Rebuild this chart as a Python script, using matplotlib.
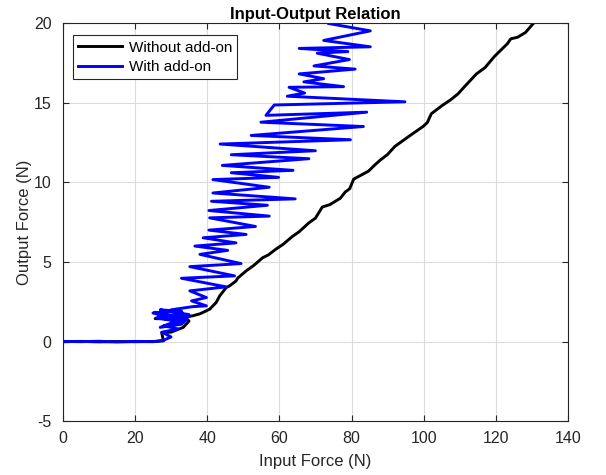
import matplotlib.pyplot as plt

plt.rcParams['font.family'] = ['Liberation Sans', 'DejaVu Sans']
plt.rcParams['axes.unicode_minus'] = False

# Without add-on (black curve)
x_without = [0, 5, 10, 15, 20, 24, 26, 27.9, 27.4, 30, 33.4, 35, 34.5, 25.6, 30, 33,
             36.1, 38, 39.8, 40.7, 42.5, 43.5, 45.3, 46.2, 48, 48.5, 50.8, 53, 55.4,
             57, 59, 61, 63.6, 65.5, 68.2, 70, 71.9, 74, 76.9, 78.3, 79.5, 80.6,
             84.7, 86.5, 88, 90, 92, 96, 99.8, 101, 102.1, 105, 107.6, 109.5, 111.3,
             114.6, 117, 119.6, 123.2, 124.1, 126, 128.2, 130.1, 131]
y_without = [0, 0.02, -0.01, 0.01, 0, 0.01, 0.02, 0.05, 0.58, 0.6, 0.9, 1.3, 1.4, 1.45,
             1.48, 1.5, 1.63, 1.75, 1.94, 2.04, 2.46, 2.88, 3.4, 3.5, 3.81, 4.0, 4.44,
             4.8, 5.27, 5.45, 5.8, 6.1, 6.6, 6.9, 7.46, 7.75, 8.45, 8.6, 9.0, 9.4,
             9.6, 10.2, 10.7, 11.1, 11.4, 11.75, 12.25, 12.9, 13.5, 13.75, 14.3, 14.8,
             15.2, 15.55, 16.0, 16.8, 17.2, 17.9, 18.7, 19.0, 19.1, 19.4, 19.9, 20.1]

# With add-on (blue zigzag)
x_with = [0, 5, 10, 15, 20, 25, 28, 30, 27.5, 32, 28, 33.5, 26, 34, 25, 33, 27, 35,
          26.5, 34.5, 25.5, 33, 27, 35, 30, 36, 39.8, 35.7, 39.8, 35.2, 45.3, 32.9,
          47.6, 35.2, 49.4, 38, 45.7, 36.6, 48, 38.9, 50.8, 40.5, 53.4, 40.7, 57.2,
          40.5, 56.7, 41.2, 64.4, 41.6, 57.2, 41.6, 59.8, 46.7, 63.8, 44.2, 68.2,
          46.7, 70, 43.6, 79.7, 52.2, 83.3, 54.9, 84.2, 56.3, 58.6, 94.8, 62.2, 67,
          62.7, 77.8, 66.8, 72.3, 65.5, 81, 69.6, 79.4, 70.5, 79, 65.5, 85.2, 72.3,
          85.2, 73.7]
y_with = [0.02, 0.0, 0.03, -0.02, 0.02, 0.0, 0.1, 0.3, 0.6, 0.8, 1.0, 1.2, 1.5, 1.3,
          1.8, 1.9, 2.0, 1.7, 1.6, 1.4, 1.85, 1.1, 0.9, 1.6, 2.0, 2.2, 2.25, 2.56,
          2.77, 3.19, 3.44, 3.98, 4.13, 4.71, 4.9, 5.48, 5.73, 6.0, 6.2, 6.52, 6.73,
          7.0, 7.23, 7.77, 7.88, 8.23, 8.56, 8.81, 8.96, 9.33, 9.69, 10.17, 10.31,
          10.6, 10.75, 11.06, 11.48, 11.73, 11.98, 12.4, 12.67, 12.94, 13.5, 13.77,
          14.4, 14.2, 14.85, 15.05, 15.4, 15.6, 15.96, 16.0, 16.3, 16.5, 16.8, 17.1,
          17.3, 17.7, 18.1, 18.2, 18.4, 18.5, 18.9, 19.5, 19.96]

x_ticks = [0, 20, 40, 60, 80, 100, 120, 140]
y_ticks = [-5, 0, 5, 10, 15, 20]

fig = plt.figure(figsize=(6.06, 4.75), dpi=100)
ax = fig.add_axes([0.1035, 0.1128, 0.834, 0.839])

ax.plot(x_without, y_without, color='k', linewidth=2.1, label='Without add-on')
ax.plot(x_with, y_with, color=(0, 0, 1), linewidth=2.1, label='With add-on')

ax.set_xlim(0, 140)
ax.set_ylim(-5, 20)
ax.set_xticks(x_ticks)
ax.set_yticks(y_ticks)
ax.grid(True, color='#dcdcdc', linewidth=0.8)
ax.set_axisbelow(True)
ax.tick_params(direction='in', top=True, right=True, labelsize=11.5,
               colors='#262626', length=4)
ax.tick_params(axis='x', pad=7)
ax.tick_params(axis='y', pad=8)
for s in ax.spines.values():
    s.set_color('#262626')
    s.set_linewidth(0.8)

ax.set_xlabel('Input Force (N)', fontsize=12, color='#262626', labelpad=6)
ax.set_ylabel('Output Force (N)', fontsize=12, color='#262626', labelpad=1)
ax.set_title('Input-Output Relation', fontsize=12, fontweight='bold', pad=3)

leg = ax.legend(loc='upper left', fontsize=11, fancybox=False, framealpha=1,
                edgecolor='#262626', handlelength=2.9, handletextpad=0.4,
                borderpad=0.35, labelspacing=0.35, borderaxespad=0,
                bbox_to_anchor=(0.02, 0.969))
leg.get_frame().set_linewidth(0.8)

plt.savefig('out.png', dpi=100)
